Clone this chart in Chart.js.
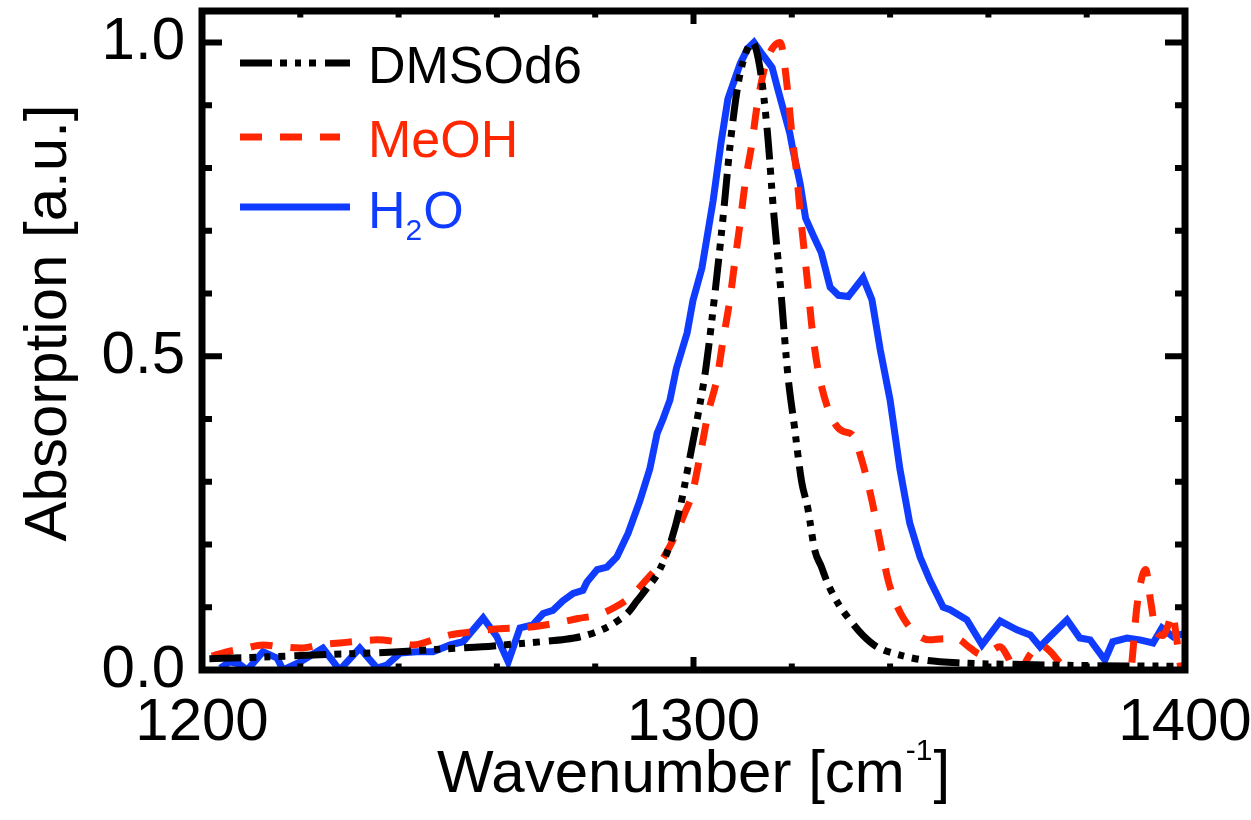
<!DOCTYPE html>
<html>
<head>
<meta charset="utf-8">
<script src="https://cdn.jsdelivr.net/npm/chart.js@4/dist/chart.umd.min.js"></script>
<style>
  html, body { margin: 0; padding: 0; background: #fff; }
  canvas { display: block; }
</style>
</head>
<body>
<canvas id="spec" width="1251" height="820"></canvas>
<script>
// axis ticks
const xMajor = [1200, 1300, 1400];
const yMajor = [0.0, 0.5, 1.0];
const xMinorStep = 20;
const yMinorStep = 0.1;

// DMSOd6 (black, dash-dot-dot-dot)
const dmsoX = [1201.5, 1210, 1220, 1230, 1240, 1250, 1257, 1263, 1269, 1274, 1277, 1280, 1282.4, 1284.5, 1286.5, 1288.5, 1290.5, 1292.8, 1295.2, 1297.3, 1299.3, 1301, 1302.5, 1304.5, 1306, 1307.5, 1309, 1310.5, 1312, 1313.5, 1315, 1316.3, 1317.6, 1319.2, 1320.5, 1322, 1323.2, 1324.7, 1326, 1327.2, 1329.5, 1331.8, 1334.5, 1337.3, 1341, 1346.7, 1355, 1365, 1380, 1400];
const dmsoY = [0.018, 0.02, 0.023, 0.026, 0.029, 0.034, 0.037, 0.041, 0.045, 0.049, 0.053, 0.06, 0.068, 0.078, 0.09, 0.11, 0.13, 0.155, 0.2, 0.26, 0.34, 0.41, 0.48, 0.61, 0.72, 0.84, 0.93, 0.98, 1.0, 0.96, 0.86, 0.73, 0.62, 0.47, 0.39, 0.3, 0.26, 0.19, 0.165, 0.14, 0.105, 0.08, 0.055, 0.037, 0.026, 0.016, 0.011, 0.009, 0.007, 0.006];

// MeOH (red, dashed)
const meohX = [1202, 1205, 1208.5, 1212.4, 1216, 1220, 1224, 1228, 1232, 1235.6, 1239.5, 1243, 1247, 1250.5, 1254, 1258, 1261.5, 1264.7, 1268.5, 1272.8, 1276.5, 1280.6, 1284, 1287.1, 1290, 1292.6, 1294.7, 1296.6, 1298.2, 1299.7, 1301.3, 1303, 1304.8, 1306, 1307.4, 1308.4, 1309.5, 1310.5, 1311.9, 1312.9, 1314.5, 1316, 1317.6, 1319.2, 1320, 1321, 1321.7, 1322.5, 1323.3, 1324.1, 1325.3, 1327.2, 1329, 1330.5, 1332.3, 1334.4, 1336.3, 1337.9, 1339.6, 1341, 1342.6, 1345, 1348, 1351, 1353.5, 1356.3, 1358.5, 1360.5, 1362.3, 1364, 1365.5, 1367, 1368.5, 1370.5, 1372.5, 1374.5, 1376.6, 1379, 1384, 1388, 1389, 1390.2, 1391.3, 1392, 1393, 1394.2, 1395.5, 1396.5, 1397.4, 1398.3, 1399.3, 1400];
const meohY = [0.022, 0.029, 0.034, 0.04, 0.037, 0.035, 0.04, 0.043, 0.046, 0.048, 0.045, 0.04, 0.048, 0.056, 0.06, 0.064, 0.066, 0.067, 0.07, 0.076, 0.082, 0.088, 0.1, 0.116, 0.14, 0.164, 0.19, 0.22, 0.25, 0.28, 0.34, 0.41, 0.465, 0.525, 0.59, 0.65, 0.713, 0.775, 0.84, 0.897, 0.96, 0.99, 1.0, 0.92, 0.855, 0.79, 0.73, 0.67, 0.61, 0.546, 0.48, 0.42, 0.39, 0.38, 0.375, 0.33, 0.27, 0.207, 0.143, 0.11, 0.084, 0.06, 0.048, 0.05, 0.05, 0.035, 0.025, 0.03, 0.037, 0.02, -0.005, 0.005, 0.025, 0.04, 0.03, 0.012, -0.002, -0.02, -0.03, -0.02, 0.0, 0.1, 0.15, 0.16, 0.11, 0.06, 0.055, 0.07, 0.09, 0.05, -0.005, -0.03];

// H2O (blue, solid)
const h2oX = [1203.7, 1205.7, 1207.5, 1209.2, 1212.4, 1215.3, 1216.5, 1220, 1224.6, 1228, 1232.1, 1235.6, 1237.6, 1240.3, 1243.7, 1247, 1250.5, 1253.1, 1257.2, 1260, 1262.3, 1264.7, 1267.3, 1269.4, 1271.4, 1273.4, 1275.5, 1277.5, 1278.3, 1280.4, 1282.4, 1284.4, 1286.7, 1289.1, 1291.1, 1292.6, 1293.8, 1295.2, 1296.5, 1298.7, 1299.9, 1301.7, 1304, 1305.6, 1307, 1309.5, 1311, 1312.3, 1314.1, 1316, 1317, 1319.6, 1320.2, 1321.7, 1322.8, 1324.5, 1326, 1327.8, 1329.5, 1331.5, 1333, 1334.5, 1336.3, 1338, 1340, 1342, 1344, 1346.1, 1348.1, 1350.8, 1352.2, 1355.6, 1358.7, 1362.4, 1365.8, 1368.5, 1370.5, 1372.5, 1376, 1378.6, 1380.7, 1383.7, 1385.3, 1388.2, 1390.8, 1393.5, 1395.3, 1397.6, 1400];
const h2oY = [0.003, 0.013, 0.01, 0.0, 0.029, 0.019, 0.0, 0.013, 0.035, 0.0, 0.035, 0.003, 0.008, 0.027, 0.029, 0.029, 0.04, 0.045, 0.083, 0.053, 0.013, 0.067, 0.072, 0.09, 0.095, 0.11, 0.122, 0.127, 0.14, 0.16, 0.164, 0.18, 0.218, 0.27, 0.32, 0.377, 0.4, 0.43, 0.48, 0.537, 0.589, 0.64, 0.748, 0.84, 0.91, 0.966, 0.99, 1.0, 0.98, 0.96, 0.93, 0.855, 0.83, 0.775, 0.72, 0.69, 0.665, 0.61, 0.597, 0.595, 0.61, 0.625, 0.59, 0.51, 0.43, 0.32, 0.234, 0.18, 0.143, 0.1, 0.096, 0.08, 0.04, 0.078, 0.064, 0.056, 0.037, 0.053, 0.08, 0.051, 0.048, 0.016, 0.045, 0.051, 0.048, 0.043, 0.067, 0.053, 0.059];

const FONT = "'Liberation Sans', Arial, Helvetica, sans-serif";
const RED = '#ff2600';
const BLUE = '#0f3cff';

function pts(xs, ys){
  return xs.map((x, i) => ({ x: x, y: ys[i] }));
}

// frame, inward ticks, axis titles and the legend
const decor = {
  id: 'decor',
  afterDraw(chart){
    const ctx = chart.ctx;
    const a = chart.chartArea;
    const xs = chart.scales.x, ys = chart.scales.y;
    ctx.save();
    ctx.strokeStyle = '#000';
    ctx.lineCap = 'butt';
    ctx.setLineDash([]);

    // ticks (x-axis ticks scale with plot height, y-axis ticks with plot width)
    const xMaj = 13, xMin = 6.5, yMaj = 20, yMin = 10;
    ctx.lineWidth = 6;
    ctx.beginPath();
    for (let v = xMajor[0]; v <= xMajor[xMajor.length - 1] + 0.001; v += xMinorStep){
      const px = xs.getPixelForValue(v);
      const len = xMajor.includes(Math.round(v)) ? xMaj : xMin;
      ctx.moveTo(px, a.bottom); ctx.lineTo(px, a.bottom - len);
      ctx.moveTo(px, a.top); ctx.lineTo(px, a.top + len);
    }
    for (let i = 0; i <= 10; i++){
      const v = i * yMinorStep;
      const py = ys.getPixelForValue(v);
      const len = (i % 5 === 0) ? yMaj : yMin;
      ctx.moveTo(a.left, py); ctx.lineTo(a.left + len, py);
      ctx.moveTo(a.right, py); ctx.lineTo(a.right - len, py);
    }
    ctx.stroke();

    // frame
    ctx.lineWidth = 7;
    ctx.strokeRect(a.left, a.top, a.right - a.left, a.bottom - a.top);

    // x title with superscript
    ctx.fillStyle = '#000';
    ctx.textBaseline = 'alphabetic';
    ctx.textAlign = 'left';
    const t1 = 'Wavenumber [cm', t3 = ']';
    ctx.font = '30px ' + FONT;
    const w2 = ctx.measureText('-1').width;
    ctx.font = '60px ' + FONT;
    const w1 = ctx.measureText(t1).width, w3 = ctx.measureText(t3).width;
    const x0 = (a.left + a.right) / 2 - (w1 + w2 + w3 + 2) / 2;
    const base = 792;
    ctx.fillText(t1, x0, base);
    ctx.font = '30px ' + FONT;
    ctx.fillText('-1', x0 + w1 + 1, base - 32);
    ctx.font = '60px ' + FONT;
    ctx.fillText(t3, x0 + w1 + w2 + 2, base);

    // y title
    ctx.save();
    ctx.translate(49, 323);
    ctx.rotate(-Math.PI / 2);
    ctx.textAlign = 'center';
    ctx.textBaseline = 'middle';
    ctx.fillText('Absorption [a.u.]', 0, 0);
    ctx.restore();

    // legend
    const rows = [
      { ds: chart.data.datasets[0], ly: 63, base: 83, x1: 350 },
      { ds: chart.data.datasets[1], ly: 137, base: 157, x1: 340 },
      { ds: chart.data.datasets[2], ly: 207, base: 228, x1: 350 }
    ];
    rows.forEach(r => {
      ctx.strokeStyle = r.ds.borderColor;
      ctx.lineWidth = 7;
      ctx.setLineDash(r.ds.borderDash || []);
      ctx.beginPath();
      ctx.moveTo(240, r.ly); ctx.lineTo(r.x1, r.ly);
      ctx.stroke();
      ctx.setLineDash([]);
      ctx.fillStyle = r.ds.borderColor;
      ctx.textAlign = 'left';
      ctx.textBaseline = 'alphabetic';
      ctx.font = '52px ' + FONT;
      if (r.ds.label === 'H2O'){
        ctx.fillText('H', 368, r.base);
        const wh = ctx.measureText('H').width;
        ctx.font = '30px ' + FONT;
        ctx.fillText('2', 368 + wh, r.base + 12);
        const w2s = ctx.measureText('2').width;
        ctx.font = '52px ' + FONT;
        ctx.fillText('O', 368 + wh + w2s + 1, r.base);
      } else {
        ctx.fillText(r.ds.label, 368, r.base);
      }
    });
    ctx.restore();
  }
};

Chart.defaults.font.family = FONT;
Chart.defaults.color = '#000';

function fixX(s){ s.height = 150; s.paddingLeft = 0; s.paddingRight = 0; }
function fixY(s){ s.width = 202; s.paddingTop = 0; s.paddingBottom = 0; }

new Chart(document.getElementById('spec').getContext('2d'), {
  type: 'line',
  data: {
    datasets: [
      { label: 'DMSOd6', data: pts(dmsoX, dmsoY), borderColor: '#000000', borderWidth: 7,
        borderDash: [32, 8, 7, 8, 6, 8, 7, 9], cubicInterpolationMode: 'monotone' },
      { label: 'MeOH', data: pts(meohX, meohY), borderColor: RED, borderWidth: 7,
        borderDash: [22, 18], cubicInterpolationMode: 'monotone' },
      { label: 'H2O', data: pts(h2oX, h2oY), borderColor: BLUE, borderWidth: 7, tension: 0 }
    ]
  },
  options: {
    responsive: false,
    animation: false,
    devicePixelRatio: 1,
    layout: { padding: { top: 11, right: 66, left: 0, bottom: 0 } },
    elements: { point: { radius: 0 }, line: { fill: false, borderCapStyle: 'butt' } },
    plugins: { legend: { display: false }, tooltip: { enabled: false } },
    scales: {
      x: {
        type: 'linear', min: 1200, max: 1400,
        grid: { display: false, drawTicks: false },
        border: { display: false },
        ticks: { stepSize: 100, includeBounds: false, padding: 17, maxRotation: 0,
                 font: { size: 60 }, color: '#000', callback: v => String(v) },
        afterFit: fixX
      },
      y: {
        type: 'linear', min: 0, max: 1.05,
        grid: { display: false, drawTicks: false },
        border: { display: false },
        ticks: { stepSize: 0.5, includeBounds: false, padding: 17,
                 font: { size: 60 }, color: '#000', callback: v => Number(v).toFixed(1) },
        afterFit: fixY
      }
    }
  },
  plugins: [decor]
});
</script>
</body>
</html>
